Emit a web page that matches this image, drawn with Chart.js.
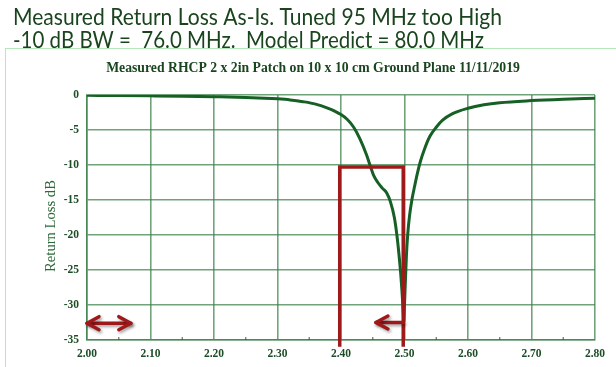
<!DOCTYPE html>
<html>
<head>
<meta charset="utf-8">
<script src="https://cdn.jsdelivr.net/npm/chart.js@4.4.1/dist/chart.umd.min.js"></script>
<style>
  html, body { margin: 0; padding: 0; background: #ffffff; overflow: hidden; }
  #wrap { width: 616px; height: 367px; position: relative; }
</style>
</head>
<body>
<div id="wrap"><canvas id="c" width="616" height="367"></canvas></div>
<script>
// Measured return loss sweep of the RHCP patch (frequency in GHz, return loss in dB)
const freqGHz = [
  2.00, 2.05, 2.10, 2.15, 2.20, 2.25, 2.28, 2.30, 2.32, 2.34,
  2.36, 2.38, 2.39, 2.40, 2.41, 2.42, 2.43, 2.44, 2.446, 2.452,
  2.458, 2.465, 2.472, 2.478, 2.484, 2.488, 2.491, 2.494, 2.496, 2.498,
  2.499, 2.500, 2.501, 2.503, 2.505, 2.508, 2.512, 2.516, 2.520, 2.525,
  2.532, 2.540, 2.550, 2.560, 2.575, 2.600, 2.625, 2.650, 2.700, 2.750,
  2.800
];
const returnLossDb = [
  -0.05, -0.08, -0.12, -0.17, -0.25, -0.35, -0.45, -0.55, -0.70, -0.95,
  -1.30, -1.90, -2.30, -2.80, -3.50, -4.60, -6.30, -8.50, -10.1, -11.6,
  -12.5, -13.3, -14.0, -15.3, -17.5, -20.0, -22.5, -25.5, -28.0, -31.0,
  -32.5, -30.0, -27.5, -23.0, -20.0, -17.2, -14.8, -13.0, -11.3, -9.5,
  -7.6, -5.9, -4.6, -3.6, -2.7, -1.9, -1.4, -1.1, -0.8, -0.6,
  -0.45
];

// Axis ticks
const xTickValues = [2.00, 2.10, 2.20, 2.30, 2.40, 2.50, 2.60, 2.70, 2.80];
const xMinorTicks = [2.05, 2.15, 2.25, 2.35, 2.45, 2.55, 2.65, 2.75];
const yTickValues = [0, -5, -10, -15, -20, -25, -30, -35];

// -10 dB bandwidth bracket
const bandEdgesGHz = [2.398, 2.498];
const bandLevelDb = -10.3;
const bracketFootDb = -35.95;

// Arrow from the resonance towards lower frequency, and the shift marker
const resonanceArrowGHz = [2.498, 2.455];   // tail, tip
const resonanceArrowDb = -32.5;
const shiftArrowGHz = [2.000, 2.069];       // both ends carry heads
const shiftArrowDb = -32.6;

// Texts
const headline = [
  "Measured Return Loss As-Is. Tuned 95 MHz too High",
  "-10 dB BW =  76.0 MHz.  Model Predict = 80.0 MHz"
];
const plotTitle = "Measured RHCP 2 x 2in Patch on 10 x 10 cm Ground Plane 11/11/2019";
const yAxisTitle = "Return Loss dB";

const curveColor = "rgb(22,96,38)";
const gridColor = "rgba(58,128,72,0.72)";
const markColor = "rgb(158,26,26)";
const textGreen = "rgb(26,68,30)";
const tickGreen = "rgb(30,78,40)";

function fitFont(ctx, text, family, weight, guess, targetWidth) {
  ctx.font = weight + " " + guess + "px " + family;
  const w = ctx.measureText(text).width;
  const size = guess * targetWidth / w;
  ctx.font = weight + " " + size.toFixed(2) + "px " + family;
  return size;
}

// Draws text at a fixed font size, squeezed horizontally to a given width
function squeezedText(ctx, text, x, y, font, targetWidth) {
  ctx.save();
  ctx.font = font;
  const w = ctx.measureText(text).width;
  ctx.translate(x, y);
  ctx.scale(targetWidth / w, 1);
  ctx.fillText(text, 0, 0);
  ctx.restore();
}

function chevron(ctx, tx, ty, dir) {
  // dir = -1 points left, +1 points right
  ctx.beginPath();
  ctx.moveTo(tx - dir * 12, ty - 6.5);
  ctx.lineTo(tx, ty);
  ctx.lineTo(tx - dir * 12, ty + 6.5);
  ctx.stroke();
}

const decorations = {
  id: "decorations",
  beforeDraw(chart) {
    const ctx = chart.ctx;
    ctx.save();
    ctx.fillStyle = "#ffffff";
    ctx.fillRect(0, 0, chart.width, chart.height);
    // light frame of the embedded chart object
    ctx.strokeStyle = "rgba(150,220,160,0.7)";
    ctx.lineWidth = 1;
    ctx.strokeRect(5.5, 48.5, 700, 400);
    ctx.restore();
  },
  afterDatasetsDraw(chart) {
    const ctx = chart.ctx;
    const xs = chart.scales.x, ys = chart.scales.y;
    ctx.save();
    ctx.strokeStyle = markColor;
    ctx.lineWidth = 3.5;
    ctx.lineCap = "round";
    ctx.lineJoin = "round";
    ctx.shadowColor = "rgba(0,0,0,0.35)";
    ctx.shadowBlur = 3;
    ctx.shadowOffsetX = 1.5;
    ctx.shadowOffsetY = 2;

    // resonance arrow
    const ry = ys.getPixelForValue(resonanceArrowDb);
    const r0 = xs.getPixelForValue(resonanceArrowGHz[0]);
    const r1 = xs.getPixelForValue(resonanceArrowGHz[1]);
    ctx.beginPath();
    ctx.moveTo(r0, ry);
    ctx.lineTo(r1, ry);
    ctx.stroke();
    chevron(ctx, r1, ry, -1);

    // double-headed shift arrow
    const sy = ys.getPixelForValue(shiftArrowDb);
    const s0 = xs.getPixelForValue(shiftArrowGHz[0]);
    const s1 = xs.getPixelForValue(shiftArrowGHz[1]);
    ctx.beginPath();
    ctx.moveTo(s0, sy);
    ctx.lineTo(s1, sy);
    ctx.stroke();
    chevron(ctx, s0, sy, -1);
    chevron(ctx, s1, sy, 1);
    ctx.restore();

    // minor ticks on the frequency axis
    ctx.save();
    ctx.strokeStyle = "rgba(40,90,50,0.8)";
    ctx.lineWidth = 1.2;
    const yb = chart.chartArea.bottom;
    xMinorTicks.forEach(v => {
      const px = xs.getPixelForValue(v);
      ctx.beginPath();
      ctx.moveTo(px, yb);
      ctx.lineTo(px, yb - 3);
      ctx.stroke();
    });
    ctx.restore();
  },
  afterDraw(chart) {
    const ctx = chart.ctx;
    ctx.save();
    ctx.fillStyle = textGreen;
    ctx.textBaseline = "alphabetic";
    ctx.textAlign = "left";
    squeezedText(ctx, headline[0], 13, 25, "normal 23.5px Lato", 489);
    squeezedText(ctx, headline[1], 13, 47.5, "normal 23.5px Lato", 471);

    ctx.textAlign = "center";
    ctx.fillStyle = "rgb(25,70,30)";
    fitFont(ctx, plotTitle, "'Liberation Serif'", "bold", 12, 414);
    ctx.fillText(plotTitle, 313, 72);

    ctx.translate(51, 226);
    ctx.rotate(-Math.PI / 2);
    ctx.fillStyle = "rgb(44,104,56)";
    ctx.textBaseline = "middle";
    fitFont(ctx, yAxisTitle, "'Liberation Serif'", "normal", 15, 92);
    ctx.fillText(yAxisTitle, 0, 0);
    ctx.restore();
  }
};

new Chart(document.getElementById("c"), {
  type: "line",
  data: {
    datasets: [
      {
        label: "Return loss",
        data: freqGHz.map((f, i) => ({ x: f, y: returnLossDb[i] })),
        borderColor: curveColor,
        borderWidth: 3,
        pointRadius: 0,
        cubicInterpolationMode: "monotone",
        order: 1
      },
      {
        label: "-10 dB band",
        data: [
          { x: bandEdgesGHz[0], y: bracketFootDb },
          { x: bandEdgesGHz[0], y: bandLevelDb },
          { x: bandEdgesGHz[1], y: bandLevelDb },
          { x: bandEdgesGHz[1], y: bracketFootDb }
        ],
        borderColor: markColor,
        borderWidth: 3.5,
        pointRadius: 0,
        tension: 0,
        clip: false,
        order: 0
      }
    ]
  },
  options: {
    responsive: false,
    animation: false,
    events: [],
    layout: { padding: { top: 95, right: 21, left: 0, bottom: 0 } },
    plugins: { legend: { display: false }, tooltip: { enabled: false }, title: { display: false } },
    scales: {
      x: {
        type: "linear",
        min: 2.0,
        max: 2.8,
        afterBuildTicks: s => { s.ticks = xTickValues.map(v => ({ value: v })); },
        afterFit: s => { s.height = 27; },
        ticks: {
          callback: v => Number(v).toFixed(2),
          color: tickGreen,
          font: { family: "'Liberation Serif'", weight: "bold", size: 11.5 },
          padding: 7,
          maxRotation: 0
        },
        grid: { color: gridColor, lineWidth: 1.6, drawTicks: false },
        border: { color: gridColor, width: 1.6 }
      },
      y: {
        type: "linear",
        min: -35,
        max: 0,
        afterBuildTicks: s => { s.ticks = yTickValues.map(v => ({ value: v })); },
        afterFit: s => { s.width = 87; },
        ticks: {
          callback: v => String(v),
          color: tickGreen,
          font: { family: "'Liberation Serif'", weight: "bold", size: 11.5 },
          padding: 8
        },
        grid: { color: gridColor, lineWidth: 1.6, drawTicks: false },
        border: { color: gridColor, width: 1.6 }
      }
    }
  },
  plugins: [decorations]
});
</script>
</body>
</html>
